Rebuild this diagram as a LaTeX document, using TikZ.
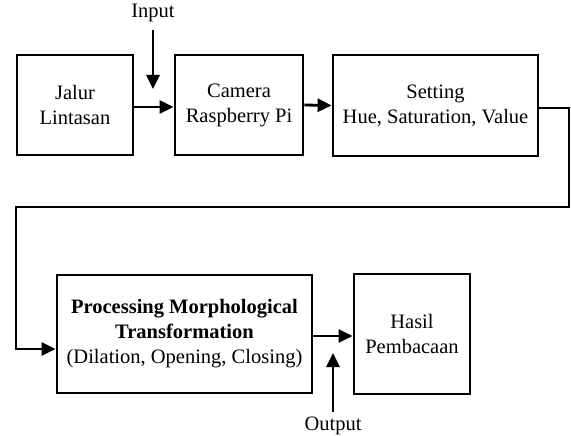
\documentclass[tikz,border=0pt]{standalone}
\usepackage{fontspec}
\setmainfont{Liberation Serif}
\usetikzlibrary{arrows.meta}
\begin{document}
\begin{tikzpicture}[x=1pt,y=-1pt,
  box/.style={draw, line width=2.8pt, rectangle, align=center, inner sep=0pt,
    font=\fontsize{20.5}{25}\selectfont},
  lbl/.style={font=\fontsize{20.5}{24}\selectfont, inner sep=0pt},
  arr/.style={line width=2.8pt, -{Triangle[length=14pt,width=13pt]}}]
\useasboundingbox (0,0) rectangle (571,436);
\node[box, minimum width=116pt, minimum height=100pt] (b1) at (75,105) {Jalur\\Lintasan};
\node[box, minimum width=128pt, minimum height=100pt] (b2) at (239,105) {Camera\\Raspberry Pi};
\node[box, minimum width=205pt, minimum height=101pt] (b3) at (435.5,105.5) {Setting\\Hue, Saturation, Value};
\node[box, minimum width=255pt, minimum height=118pt] (b4) at (184.5,334) {\textbf{Processing Morphological}\\\textbf{Transformation}\\(Dilation, Opening, Closing)};
\node[box, minimum width=116pt, minimum height=120pt] (b5) at (412,334) {Hasil\\Pembacaan};
\node[lbl] (inl) at (153,13) {Input};
\node[lbl] (outl) at (333,426) {Output};
\coordinate (ins) at (153,30);
\coordinate (int) at (153,89);
\coordinate (outs) at (333,412);
\coordinate (outt) at (333,353);
\coordinate (r) at (569,207);
\coordinate (l) at (16,207);
\draw[arr] ([yshift=-2pt]b1.east) -- ([yshift=-2pt]b2.west);
\draw[arr] (b2.east) -- (b3.west);
\draw[arr] (ins) -- (int);
\draw[arr] ([yshift=-2.5pt]b3.east) -| (r) -- (l) |- ([yshift=-15pt]b4.west);
\draw[arr] ([yshift=-2pt]b4.east) -- ([yshift=-2pt]b5.west);
\draw[arr] (outs) -- (outt);
\end{tikzpicture}
\end{document}
